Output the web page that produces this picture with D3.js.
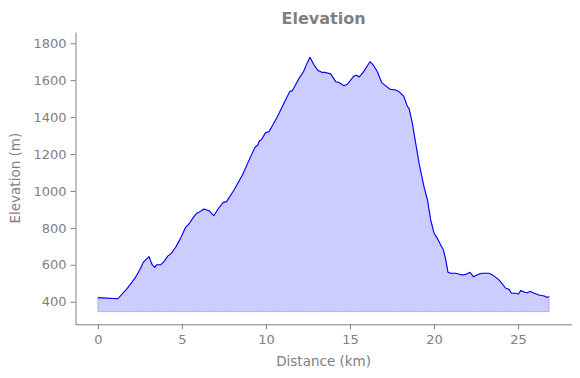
<!DOCTYPE html>
<html>
<head>
<meta charset="utf-8">
<script src="https://cdn.jsdelivr.net/npm/d3@7"></script>
<style>
  body { margin: 0; background: #fff; }
  text { font-family: "DejaVu Sans", sans-serif; fill: #808080; }
</style>
</head>
<body>
<script>
// elevation profile
const distance = [0, 1.19, 1.75, 2.24, 2.54, 2.70, 3.04, 3.24, 3.39, 3.49, 3.73, 3.93, 4.17, 4.37, 4.63, 4.92,
  5.22, 5.42, 5.71, 5.88, 6.01, 6.31, 6.61, 6.90, 7.14, 7.46, 7.66, 8.10, 8.60, 9.09, 9.35, 9.52, 9.61, 9.72,
  9.98, 10.18, 10.68, 11.07, 11.41, 11.57, 11.97, 12.23, 12.46, 12.62, 12.86, 13.10, 13.36, 13.49, 13.85,
  14.15, 14.35, 14.64, 14.84, 15.24, 15.40, 15.54, 15.74, 16.19, 16.39, 16.63, 16.89, 17.13, 17.38, 17.72,
  17.92, 18.21, 18.42, 18.51, 18.71, 18.91, 19.11, 19.40, 19.61, 19.80, 20.00, 20.20, 20.40, 20.56, 20.70,
  20.83, 20.99, 21.29, 21.69, 21.89, 22.14, 22.35, 22.68, 22.88, 23.27, 23.48, 23.87, 24.27, 24.46, 24.61,
  24.86, 25.02, 25.16, 25.40, 25.56, 25.71, 25.95, 26.25, 26.55, 26.71, 26.85];
const elevation = [422, 416, 472, 532, 581, 613, 644, 599, 586, 600, 600, 617, 648, 662, 695, 743,
  803, 821, 861, 879, 884, 902, 893, 866, 901, 938, 942, 1005, 1086, 1186, 1237, 1249, 1272, 1276,
  1316, 1321, 1402, 1475, 1538, 1543, 1610, 1646, 1695, 1724, 1682, 1652, 1641, 1643, 1634,
  1592, 1587, 1570, 1578, 1623, 1627, 1617, 1637, 1700, 1682, 1646, 1587, 1569, 1551, 1547,
  1538, 1511, 1457, 1448, 1367, 1258, 1150, 1023, 951, 843, 771, 743, 707, 680, 626,
  559, 554, 554, 545, 548, 559, 535, 550, 554, 554, 545, 518, 473, 467, 446,
  446, 442, 460, 451, 449, 456, 446, 436, 431, 424, 427];
const baseElevation = 346;
const xTicks = [0, 5, 10, 15, 20, 25];
const yTicks = [400, 600, 800, 1000, 1200, 1400, 1600, 1800];

const W = 580, H = 378;
const margin = {top: 32, right: 8.3, bot: 53.7, left: 75.5};
const width = W - margin.left - margin.right,
      height = H - margin.top - margin.bot;

const data = distance.map((d, i) => ({x: d, y: elevation[i]}));

const x = d3.scaleLinear().domain([-1.33, 28.19]).range([0, width]);
const y = d3.scaleLinear().domain([277.6, 1861]).range([height, 0]);

const svg = d3.select("body").append("svg")
  .attr("width", W).attr("height", H);

const g = svg.append("g").attr("transform", `translate(${margin.left}, ${margin.top})`);

// filled area under profile
const area = d3.area().x(d => x(d.x)).y0(y(baseElevation)).y1(d => y(d.y));
g.append("path").datum(data)
  .attr("d", area)
  .attr("fill", "rgb(204,204,255)")
  .attr("stroke", "rgba(0,0,255,0.2)")
  .attr("stroke-width", 1);

const line = d3.line().x(d => x(d.x)).y(d => y(d.y));
g.append("path").datum(data)
  .attr("d", line)
  .attr("fill", "none")
  .attr("stroke", "#0000ff")
  .attr("stroke-width", 1.1)
  .attr("stroke-linejoin", "round");

// axes
const xAxis = g.append("g").attr("transform", `translate(0, ${height})`)
  .call(d3.axisBottom(x).tickValues(xTicks).tickFormat(d3.format("d"))
    .tickSize(5).tickPadding(5).tickSizeOuter(0));
const yAxis = g.append("g")
  .call(d3.axisLeft(y).tickValues(yTicks).tickFormat(d3.format("d"))
    .tickSize(5).tickPadding(4).tickSizeOuter(0));

[xAxis, yAxis].forEach(a => {
  a.select(".domain").attr("stroke", "#808080");
  a.selectAll(".tick line").attr("stroke", "#808080");
  a.selectAll(".tick text").attr("fill", "#808080")
    .style("font-size", "13px").style("font-family", "DejaVu Sans");
});

// labels
svg.append("text")
  .attr("x", margin.left + width / 2).attr("y", 24)
  .attr("text-anchor", "middle")
  .style("font-size", "16px").style("font-weight", "bold")
  .text("Elevation");

svg.append("text")
  .attr("x", margin.left + width / 2).attr("y", 366)
  .attr("text-anchor", "middle")
  .style("font-size", "13.5px")
  .text("Distance (km)");

svg.append("text")
  .attr("transform", `translate(20, ${margin.top + height / 2}) rotate(-90)`)
  .attr("text-anchor", "middle")
  .style("font-size", "13.5px")
  .text("Elevation (m)");
</script>
</body>
</html>
